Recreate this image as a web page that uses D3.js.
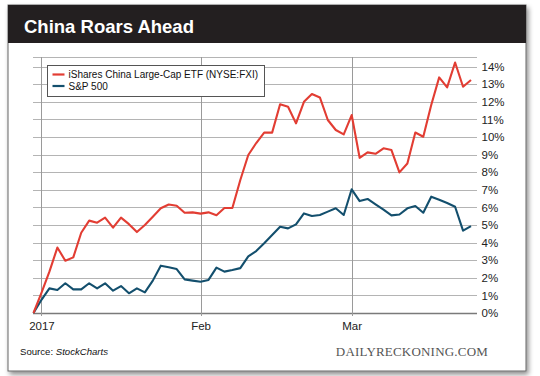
<!DOCTYPE html>
<html>
<head>
<meta charset="utf-8">
<script src="https://cdn.jsdelivr.net/npm/d3@7"></script>
<style>
  body { margin: 0; background: #fff; }
  text { font-family: "Liberation Sans", Arial, Helvetica, sans-serif; }
</style>
</head>
<body>
<script>
// trading days, Dec 30 2016 to Mar 22 2017
var days = ["2016-12-30",
  "2017-01-03","2017-01-04","2017-01-05","2017-01-06","2017-01-09","2017-01-10","2017-01-11","2017-01-12","2017-01-13",
  "2017-01-17","2017-01-18","2017-01-19","2017-01-20","2017-01-23","2017-01-24","2017-01-25","2017-01-26","2017-01-27",
  "2017-01-30","2017-01-31",
  "2017-02-01","2017-02-02","2017-02-03","2017-02-06","2017-02-07","2017-02-08","2017-02-09","2017-02-10","2017-02-13",
  "2017-02-14","2017-02-15","2017-02-16","2017-02-17","2017-02-21","2017-02-22","2017-02-23","2017-02-24","2017-02-27",
  "2017-02-28",
  "2017-03-01","2017-03-02","2017-03-03","2017-03-06","2017-03-07","2017-03-08","2017-03-09","2017-03-10","2017-03-13",
  "2017-03-14","2017-03-15","2017-03-16","2017-03-17","2017-03-20","2017-03-21","2017-03-22"];

// % change, iShares China Large-Cap ETF (FXI)
var fxi = [0, 1.15, 2.35, 3.72, 2.97, 3.16, 4.56, 5.25, 5.13, 5.42,
  4.85, 5.42, 5.05, 4.6, 5.0, 5.47, 5.95, 6.17, 6.1, 5.7,
  5.72, 5.65, 5.72, 5.56, 5.97, 5.97, 7.56, 8.98, 9.66, 10.25,
  10.25, 11.86, 11.72, 10.78, 12.0, 12.45, 12.25, 10.97, 10.4, 10.15,
  11.25, 8.82, 9.13, 9.05, 9.36, 9.26, 7.99, 8.5, 10.26, 10.02,
  11.82, 13.39, 12.82, 14.24, 12.86, 13.24];

// % change, S&P 500
var spx = [0, 0.75, 1.4, 1.31, 1.69, 1.34, 1.34, 1.69, 1.4, 1.69,
  1.27, 1.53, 1.12, 1.4, 1.17, 1.84, 2.69, 2.6, 2.5, 1.91,
  1.84, 1.78, 1.88, 2.58, 2.35, 2.44, 2.55, 3.22, 3.52, 3.96,
  4.43, 4.9, 4.81, 5.04, 5.66, 5.51, 5.57, 5.76, 5.95, 5.57,
  7.03, 6.36, 6.48, 6.17, 5.87, 5.55, 5.6, 5.95, 6.08, 5.7,
  6.61, 6.44, 6.25, 6.04, 4.68, 4.94];

var seriesNames = ["iShares China Large-Cap ETF (NYSE:FXI)", "S&P 500"];
var xTickDays = ["2017-01-03", "2017-02-01", "2017-03-01"];
var xTickLabels = ["2017", "Feb", "Mar"];
var yTicks = [0, 1, 2, 3, 4, 5, 6, 7, 8, 9, 10, 11, 12, 13, 14];

var svgWidth = 540, svgHeight = 376;
var colors = ["#e23d33", "#134f6d"];

var plotLeft = 33, plotRight = 477, plotTop = 57, plotBottom = 313;

var svg = d3.select('body').append('svg')
    .attr("width", svgWidth)
    .attr("height", svgHeight);

// card shadow
var defs = svg.append("defs");
var shadow = defs.append("filter").attr("id", "shadow")
    .attr("x", "-5%").attr("y", "-5%").attr("width", "110%").attr("height", "115%");
shadow.append("feDropShadow")
    .attr("dx", 2).attr("dy", 3).attr("stdDeviation", 2.5)
    .attr("flood-color", "#000").attr("flood-opacity", 0.45);

svg.append("rect")
    .attr("x", 8).attr("y", 5)
    .attr("width", 518).attr("height", 366)
    .attr("fill", "#fff")
    .attr("stroke", "#666")
    .attr("stroke-width", 1)
    .attr("filter", "url(#shadow)");

// title bar
svg.append("rect")
    .attr("x", 8).attr("y", 5)
    .attr("width", 518).attr("height", 38)
    .attr("fill", "#231f20");
svg.append("text")
    .attr("x", 24).attr("y", 33)
    .attr("fill", "#fff")
    .attr("font-size", "18.5px")
    .attr("font-weight", "bold")
    .text("China Roars Ahead");

// scales
var xScale = d3.scalePoint()
    .domain(days)
    .range([33.5, 471]);
var yScale = d3.scaleLinear()
    .domain([0, 14.55])
    .range([plotBottom, plotTop]);

// horizontal grid
svg.append("g")
    .selectAll("line")
    .data(yTicks.concat([14.55]))
    .enter()
    .append("line")
    .attr("x1", plotLeft).attr("x2", plotRight)
    .attr("y1", d => Math.round(yScale(d)) + 0.5)
    .attr("y2", d => Math.round(yScale(d)) + 0.5)
    .attr("stroke", d => d === 0 ? "#7a7a7a" : "#b4b4b4")
    .attr("stroke-width", d => d === 0 ? 1.6 : 1);

// vertical grid at month starts
svg.append("g")
    .selectAll("line")
    .data(xTickDays)
    .enter()
    .append("line")
    .attr("x1", d => Math.round(xScale(d)) + 0.5)
    .attr("x2", d => Math.round(xScale(d)) + 0.5)
    .attr("y1", plotTop).attr("y2", plotBottom + 3)
    .attr("stroke", "#9a9a9a")
    .attr("stroke-width", 1);

// y axis on the right
var yAxis = d3.axisRight(yScale)
    .tickValues(yTicks)
    .tickSize(0)
    .tickPadding(4.5)
    .tickFormat(d => d + "%");
var yG = svg.append("g")
    .attr("transform", "translate(" + plotRight + ",0)")
    .call(yAxis);
yG.select(".domain").remove();
yG.selectAll("text")
    .attr("font-size", "11.5px")
    .attr("fill", "#222");

// x axis labels
var xAxis = d3.axisBottom(xScale)
    .tickValues(xTickDays)
    .tickSize(0)
    .tickPadding(9)
    .tickFormat((d, i) => xTickLabels[i]);
var xG = svg.append("g")
    .attr("transform", "translate(0," + plotBottom + ")")
    .call(xAxis);
xG.select(".domain").remove();
xG.selectAll("text")
    .attr("font-size", "11.5px")
    .attr("fill", "#222");

// lines
var line = d3.line()
    .x((d, i) => xScale(days[i]))
    .y(d => yScale(d));

svg.selectAll(".series")
    .data([spx, fxi])
    .enter()
    .append("path")
    .attr("class", "series")
    .attr("d", d => line(d))
    .attr("fill", "none")
    .attr("stroke", (d, i) => i === 0 ? colors[1] : colors[0])
    .attr("stroke-width", 2.1)
    .attr("stroke-linejoin", "round");

// legend
var legend = svg.append("g").attr("transform", "translate(47,65)");
legend.append("rect")
    .attr("x", 0.5).attr("y", 0.5)
    .attr("width", 217).attr("height", 31)
    .attr("fill", "#fff")
    .attr("stroke", "#555")
    .attr("stroke-width", 1);
var items = legend.selectAll(".item")
    .data(seriesNames)
    .enter()
    .append("g")
    .attr("class", "item")
    .attr("transform", (d, i) => "translate(0," + (9.5 + i * 11.5) + ")");
items.append("line")
    .attr("x1", 5.5).attr("x2", 17.5)
    .attr("y1", 0).attr("y2", 0)
    .attr("stroke", (d, i) => colors[i])
    .attr("stroke-width", 2.2);
items.append("text")
    .attr("x", 21.5).attr("y", 3.6)
    .attr("font-size", "10px")
    .attr("fill", "#111")
    .text(d => d);

// footer
var source = svg.append("text")
    .attr("x", 20).attr("y", 355)
    .attr("font-size", "9.6px")
    .attr("fill", "#111");
source.append("tspan").text("Source: ");
source.append("tspan").attr("font-style", "italic").text("StockCharts");

svg.append("text")
    .attr("x", 488).attr("y", 355.5)
    .attr("text-anchor", "end")
    .style("font-family", "'Liberation Serif', 'DejaVu Serif', serif")
    .attr("font-size", "13px")
    .attr("fill", "#555")
    .attr("letter-spacing", "0.2px")
    .text("DAILYRECKONING.COM");
</script>
</body>
</html>
